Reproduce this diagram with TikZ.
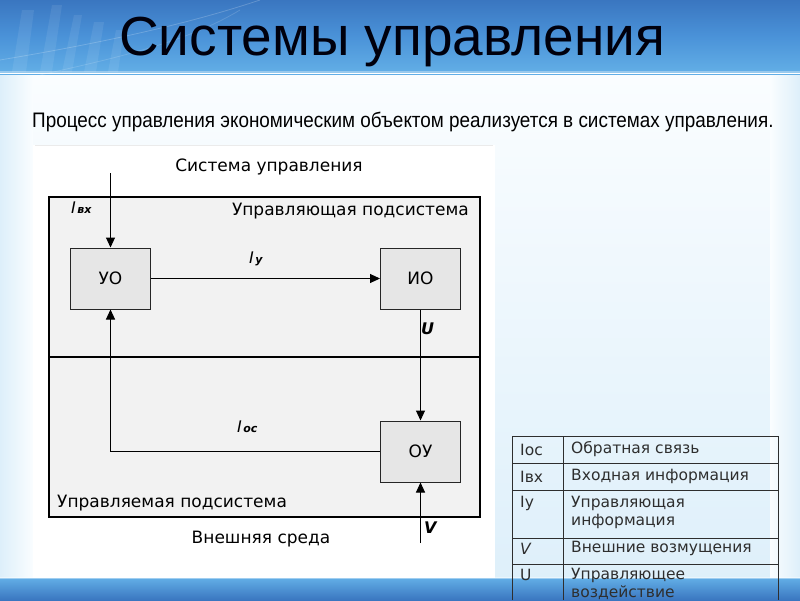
\documentclass[tikz,border=0pt]{standalone}
\usepackage{fontspec}
\setmainfont{Liberation Sans}
\newfontfamily\dv{DejaVu Sans}
\newfontfamily\narrow[FakeStretch=0.9]{Liberation Sans}
\usetikzlibrary{arrows.meta}
\definecolor{bandA}{HTML}{3A76C0}
\definecolor{bandB}{HTML}{4A92D8}
\definecolor{bandC}{HTML}{62AEE6}
\definecolor{bgtop}{HTML}{FAFDFF}
\definecolor{bgbot}{HTML}{DDEFFA}
\definecolor{panelgray}{HTML}{F2F2F2}
\definecolor{boxgray}{HTML}{E6E6E6}
\definecolor{txtgray}{HTML}{2E2E2E}
\begin{document}
\begin{tikzpicture}[x=1pt,y=-1pt,
  blk/.style={draw=black!85, fill=boxgray, minimum width=80pt, minimum height=61pt, line width=1pt, font=\dv\fontsize{17}{20}\selectfont, inner sep=0},
  subsys/.style={draw=black, line width=2.6pt, fill=panelgray},
  conn/.style={line width=1pt, draw=black},
  arr/.style={conn, -{Triangle[length=10pt,width=9pt]}},
  lbl/.style={font=\dv\fontsize{17}{20}\selectfont, inner sep=0},
  var/.style={font=\dv\itshape\fontsize{16}{19}\selectfont, inner sep=0},
  cell/.style={font=\dv\fontsize{15.5}{18}\selectfont, text=txtgray, inner sep=0, anchor=west, align=left},
  tbl/.style={draw=txtgray, line width=0.8pt},
]
\useasboundingbox (0,0) rectangle (800,600);
% background
\shade[top color=bgtop, bottom color=bgbot] (0,75) rectangle (800,600);
\shade[left color=bgbot, right color=bgtop] (0,75) rectangle (33,578);
\shade[left color=bgtop, right color=bgbot] (770,75) rectangle (800,578);
% title band
\shade[top color=bandA, bottom color=bandC, middle color=bandB] (0,0) rectangle (800,72);
\fill[white, opacity=0.35] (0,71) rectangle (800,73.5);
\fill[bandC] (0,73.5) rectangle (800,75);
\begin{scope}[white, opacity=0.08]
  \fill (12,72) -- (22,10) -- (34,10) -- (26,72) -- cycle;
  \fill (40,72) -- (52,5) -- (62,5) -- (52,72) -- cycle;
  \fill (62,72) -- (74,15) -- (82,15) -- (72,72) -- cycle;
  \fill (84,72) -- (94,22) -- (104,22) -- (96,72) -- cycle;
  \fill (108,72) -- (116,30) -- (124,30) -- (118,72) -- cycle;
\end{scope}
\draw[white, opacity=0.2, line width=0.8pt] (0,60) .. controls (120,40) and (200,20) .. (260,0);
\draw[white, opacity=0.15, line width=0.8pt] (40,75) .. controls (130,55) and (190,40) .. (240,10);
% bottom band
\shade[top color=bandC, bottom color=bandA] (0,578) rectangle (800,600);
\fill[white, opacity=0.4] (0,577) rectangle (800,579);
% title
\node[font=\fontsize{55}{62}\selectfont, text=black!95!blue, inner sep=0] (title) at (392,42) {Системы управления};
\node[font=\narrow\fontsize{21}{24}\selectfont, text=black, inner sep=0, anchor=west] (intro) at (32,122) {Процесс управления экономическим объектом реализуется в системах управления.};
% panel
\fill[white] (33,145) rectangle (495,578);
\draw[black!8, line width=0.6pt] (35,145) -- (493,145);
% subsystems
\draw[subsys] (49,197) rectangle (480,357);
\draw[subsys] (49,357) rectangle (480,517);
% labels
\node[lbl] (sys) at (269,167) {Система управления};
\node[lbl, anchor=east] (ctrl) at (469,211) {Управляющая подсистема};
\node[lbl, anchor=west] (mng) at (57,503) {Управляемая подсистема};
\node[lbl] (env) at (261,539) {Внешняя среда};
% blocks
\node[blk] (uo) at (110.5,278.5) {УО};
\node[blk] (io) at (420.5,278.5) {ИО};
\node[blk] (ou) at (420.5,451.5) {ОУ};
% connectors
\coordinate (inp) at (110.5,173);
\coordinate (vin) at (420.5,543);
\draw[arr] (inp) -- (uo.north);
\draw[arr] (uo.east) -- (io.west);
\draw[arr] (io.south) -- (ou.north);
\draw[arr] (ou.west) -| (uo.south);
\draw[arr] (vin) -- (ou.south);
% variable labels
\node[var, anchor=west] (lin) at (71,208) {I\kern1.5pt{\bfseries\fontsize{11}{13}\selectfont вх}};
\node[var, anchor=west] (ly) at (249,259) {I\kern1.5pt{\bfseries\fontsize{11}{13}\selectfont у}};
\node[var, anchor=west] (loc) at (237,427) {I\kern1.5pt{\bfseries\fontsize{11}{13}\selectfont ос}};
\node[var, font=\dv\itshape\bfseries\fontsize{16}{19}\selectfont, anchor=west] (lu) at (421,329) {U};
\node[var, font=\dv\itshape\bfseries\fontsize{16}{19}\selectfont, anchor=west] (lv) at (424,528) {V};
% legend table
\draw[tbl] (512,436) -- (778,436);
\draw[tbl] (512,463) -- (778,463);
\draw[tbl] (512,490) -- (778,490);
\draw[tbl] (512,538) -- (778,538);
\draw[tbl] (512,564) -- (778,564);
\draw[tbl] (512,436) -- (512,600);
\draw[tbl] (563,436) -- (563,600);
\draw[tbl] (778,436) -- (778,600);
\node[cell] (k1) at (520,449.5) {Iос};
\node[cell] (d1) at (571,449.5) {Обратная связь};
\node[cell] (k2) at (520,476.5) {Iвх};
\node[cell] (d2) at (571,476.5) {Входная информация};
\node[cell] (k3) at (520,503) {Iу};
\node[cell, font=\dv\fontsize{15.5}{18}\selectfont] (d3) at (571,512) {Управляющая\\информация};
\node[cell, font=\dv\itshape\fontsize{15.5}{18}\selectfont] (k4) at (520,548.5) {V};
\node[cell] (d4) at (571,548.5) {Внешние возмущения};
\node[cell] (k5) at (520,575) {U};
\node[cell, font=\dv\fontsize{15.5}{18}\selectfont] (d5) at (571,584) {Управляющее\\воздействие};
\end{tikzpicture}
\end{document}
